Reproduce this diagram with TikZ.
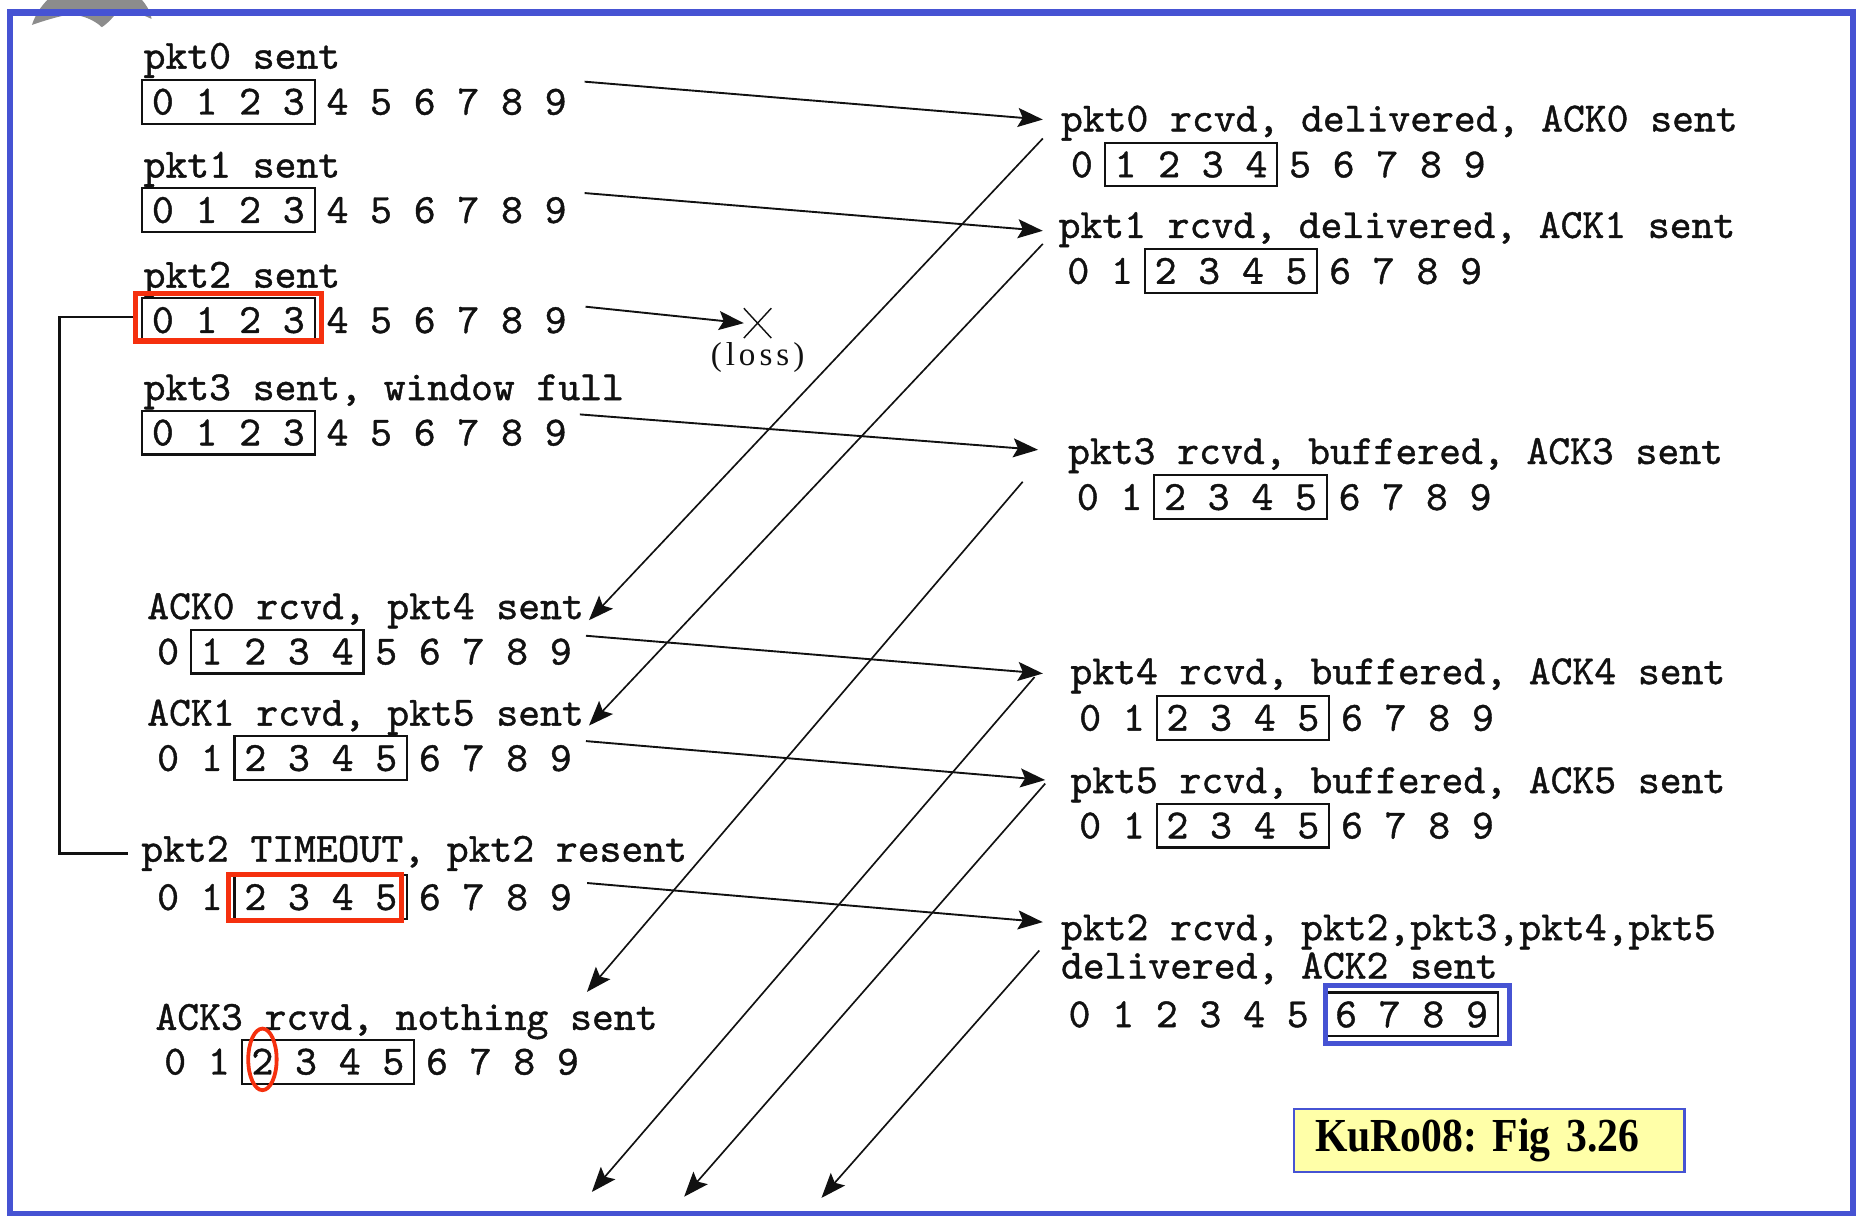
\documentclass[tikz,border=0pt]{standalone}
\usepackage{fontspec}
\usepackage{tikz}
\usetikzlibrary{positioning,arrows.meta,fit,shapes.misc}
\newfontfamily\pktfont[FakeBold=1]{lmmono10-regular.otf}
\newfontfamily\lossfont[LetterSpace=12]{Liberation Serif}
\newfontfamily\tagfont[FakeStretch=0.88]{Liberation Serif}
\definecolor{cInk}{HTML}{111111}
\definecolor{cFrame}{HTML}{4653D3}
\definecolor{cMark}{HTML}{F5300E}
\definecolor{cTag}{HTML}{FFFFA8}
\definecolor{cLogo}{HTML}{8C8C8C}

\begin{document}
\begin{tikzpicture}[
  x=0.5pt, y=-0.5pt,
  >={Stealth[length=10.5pt, width=8pt, inset=2pt]},
  mono/.style={font=\pktfont\fontsize{17.56pt}{15pt}\selectfont, text=cInk},
  lbl/.style={mono, inner sep=0pt, anchor=base west},
  digits/.style={mono, inner sep=0pt, outer sep=0pt},
  win/.style={digits, draw=cInk, line width=0.9pt, inner xsep=4.2pt,
              minimum height=18.5pt},
  hilite/.style={draw=cMark, line width=2.2pt, inner sep=0pt},
  ring/.style={draw=cMark, line width=1.6pt},
  winblue/.style={draw=cFrame, line width=2.2pt, inner sep=0pt},
  slideframe/.style={draw=cFrame, line width=2.8pt},
  tag/.style={draw=cFrame, line width=1pt, fill=cTag, text=black,
              minimum width=165pt, minimum height=26.5pt, text width=147pt,
              align=left, inner xsep=9pt,
              font=\tagfont\bfseries\fontsize{20pt}{22pt}\selectfont\frenchspacing},
  fwd/.style={->, draw=cInk, line width=0.8pt},
  ack/.style={->, draw=cInk, line width=0.7pt},
  bracket/.style={draw=cInk, line width=1pt},
  node distance=5pt]

\useasboundingbox (0,0) rectangle (1568,1027);

% ---------- slide frame ----------
\fill[cLogo] (40,0) -- (120,0) .. controls (125,6) and (128,12) .. (128,16)
  .. controls (118,11) and (108,9) .. (100,9)
  .. controls (96,14) and (92,19) .. (86,23)
  .. controls (80,17) and (70,13) .. (60,12)
  .. controls (48,14) and (36,18) .. (27,21)
  .. controls (30,12) and (35,5) .. (40,0) -- cycle;
\draw[slideframe] (8.5,10.5) rectangle (1566,1025.5);

% ---------- sender ----------
\node[lbl] (l0) at (121,58) {pkt0 sent};
\node[win, anchor=west] (wA) at (120,86) {0 1 2 3};
\node[digits, right=of wA] (tA) {4 5 6 7 8 9};

\node[lbl] (l1) at (121,150) {pkt1 sent};
\node[win, anchor=west] (wB) at (120,177.5) {0 1 2 3};
\node[digits, right=of wB] (tB) {4 5 6 7 8 9};

\node[lbl] (l2) at (121,243) {pkt2 sent};
\node[win, anchor=west] (wC) at (120,270.5) {0 1 2 3};
\node[digits, right=of wC] (tC) {4 5 6 7 8 9};
\node[hilite, fit=(wC), inner xsep=2.75pt, inner ysep=0.75pt, yshift=1.25pt] (hlC) {};

\node[lbl] (l3) at (121,338) {pkt3 sent, window full};
\node[win, anchor=west] (wD) at (120,365.5) {0 1 2 3};
\node[digits, right=of wD] (tD) {4 5 6 7 8 9};

\node[lbl] (l4) at (124,523) {ACK0 rcvd, pkt4 sent};
\node[digits, anchor=west] (hE) at (132.8,550.5) {0};
\node[win, right=of hE] (wE) {1 2 3 4};
\node[digits, right=of wE] (tE) {5 6 7 8 9};

\node[lbl] (l5) at (124,613) {ACK1 rcvd, pkt5 sent};
\node[digits, anchor=west] (hF) at (132.8,640.5) {0 1};
\node[win, right=of hF] (wF) {2 3 4 5};
\node[digits, right=of wF] (tF) {6 7 8 9};

\node[lbl] (l6) at (119,728) {pkt2 TIMEOUT, pkt2 resent};
\node[digits, anchor=west] (hG) at (132.8,758) {0 1};
\node[win, right=of hG] (wG) {2 3 4 5};
\node[digits, right=of wG] (tG) {6 7 8 9};
\node[hilite, fit=(wG), inner xsep=0pt, inner ysep=0.5pt, xshift=-2.5pt] (hlG) {};

\node[lbl] (l7) at (131,870) {ACK3 rcvd, nothing sent};
\node[digits, anchor=west] (hH) at (138.8,897) {0 1};
\node[win, right=of hH] (wH) {2 3 4 5};
\node[digits, right=of wH] (tH) {6 7 8 9};
\draw[ring] ([xshift=8.8pt, yshift=1pt]wH.west) ellipse [x radius=6pt, y radius=13pt];

% timeout bracket
\draw[bracket] (hlC.west) -- ++(-62,0) |- ([xshift=-5.5pt]l6.west);

% ---------- receiver ----------
\node[lbl] (r0) at (896,111) {pkt0 rcvd, delivered, ACK0 sent};
\node[digits, anchor=west] (hRA) at (904.8,139) {0};
\node[win, right=of hRA] (wRA) {1 2 3 4};
\node[digits, right=of wRA] (tRA) {5 6 7 8 9};

\node[lbl] (r1) at (894,201) {pkt1 rcvd, delivered, ACK1 sent};
\node[digits, anchor=west] (hRB) at (901.8,229) {0 1};
\node[win, right=of hRB] (wRB) {2 3 4 5};
\node[digits, right=of wRB] (tRB) {6 7 8 9};

\node[lbl] (r2) at (902,392) {pkt3 rcvd, buffered, ACK3 sent};
\node[digits, anchor=west] (hRC) at (909.8,420) {0 1};
\node[win, right=of hRC] (wRC) {2 3 4 5};
\node[digits, right=of wRC] (tRC) {6 7 8 9};

\node[lbl] (r3) at (904,578) {pkt4 rcvd, buffered, ACK4 sent};
\node[digits, anchor=west] (hRD) at (911.8,606.5) {0 1};
\node[win, right=of hRD] (wRD) {2 3 4 5};
\node[digits, right=of wRD] (tRD) {6 7 8 9};

\node[lbl] (r4) at (904,670) {pkt5 rcvd, buffered, ACK5 sent};
\node[digits, anchor=west] (hRE) at (911.8,697.5) {0 1};
\node[win, right=of hRE] (wRE) {2 3 4 5};
\node[digits, right=of wRE] (tRE) {6 7 8 9};

\node[mono, inner sep=0pt, align=left, anchor=north west] (r5) at (896,772)
     {pkt2 rcvd, pkt2,pkt3,pkt4,pkt5\\[1.2pt]delivered, ACK2 sent};
\node[digits, anchor=west] (hRF) at (902.8,857) {0 1 2 3 4 5};
\node[win, right=7pt of hRF] (wRF) {6 7 8 9};
\node[winblue, fit=(wRF), inner xsep=2.25pt, inner ysep=3pt, xshift=2.5pt] (blRF) {};

% ---------- loss ----------
\node[draw=cInk, cross out, line width=0.6pt, minimum width=11pt,
      minimum height=12pt, inner sep=0pt] (lossx) at (640,273) {};
\node[below=1.5pt of lossx, inner sep=0pt, text=cInk,
      font=\lossfont\fontsize{14pt}{16pt}\selectfont] (loss) {(loss)};

% ---------- data packets ----------
\draw[fwd] ([shift={(7.6pt,8.5pt)}]tA.east) -- ([shift={(-7.5pt,5pt)}]r0.base west);
\draw[fwd] ([shift={(7.6pt,7.2pt)}]tB.east) -- ([shift={(-6.5pt,3pt)}]r1.base west);
\draw[fwd] ([shift={(8pt,5.7pt)}]tC.east) -- (lossx.west);
\draw[fwd] ([shift={(5.6pt,7.7pt)}]tD.east) -- ([shift={(-12.5pt,6pt)}]r2.base west);
\draw[fwd] ([shift={(6pt,6.7pt)}]tE.east) -- ([shift={(-11.5pt,4.5pt)}]r3.base west);
\draw[fwd] ([shift={(6pt,7.2pt)}]tF.east) -- ([shift={(-10.5pt,5.5pt)}]r4.base west);
\draw[fwd] ([shift={(6.5pt,6pt)}]tG.east) -- ([shift={(-7.5pt,-3.5pt)}]r5.north west);

% ---------- acks ----------
\coordinate (e4) at (500,1007);
\coordinate (e5) at (578,1011);
\coordinate (e2) at (694,1012);
\draw[ack] ([shift={(-7.5pt,-3pt)}]r0.base west) -- ([shift={(2pt,-0.5pt)}]l4.base east);
\draw[ack] ([shift={(-6.5pt,-2.5pt)}]r1.base west) -- ([shift={(2pt,0pt)}]l5.base east);
\draw[ack] ([shift={(-19pt,-7.5pt)}]r2.base west) -- ([shift={(-30pt,16pt)}]l7.base east);
\draw[ack] ([shift={(-15pt,3pt)}]r3.base west) -- (e4);
\draw[ack] ([shift={(-10.5pt,4pt)}]r4.base west) -- (e5);
\draw[ack] ([shift={(-9pt,-15.5pt)}]r5.north west) -- (e2);

% ---------- source tag ----------
\node[tag, anchor=north west] (fig) at (1092,936) {KuRo08: Fig 3.26};
\end{tikzpicture}
\end{document}
